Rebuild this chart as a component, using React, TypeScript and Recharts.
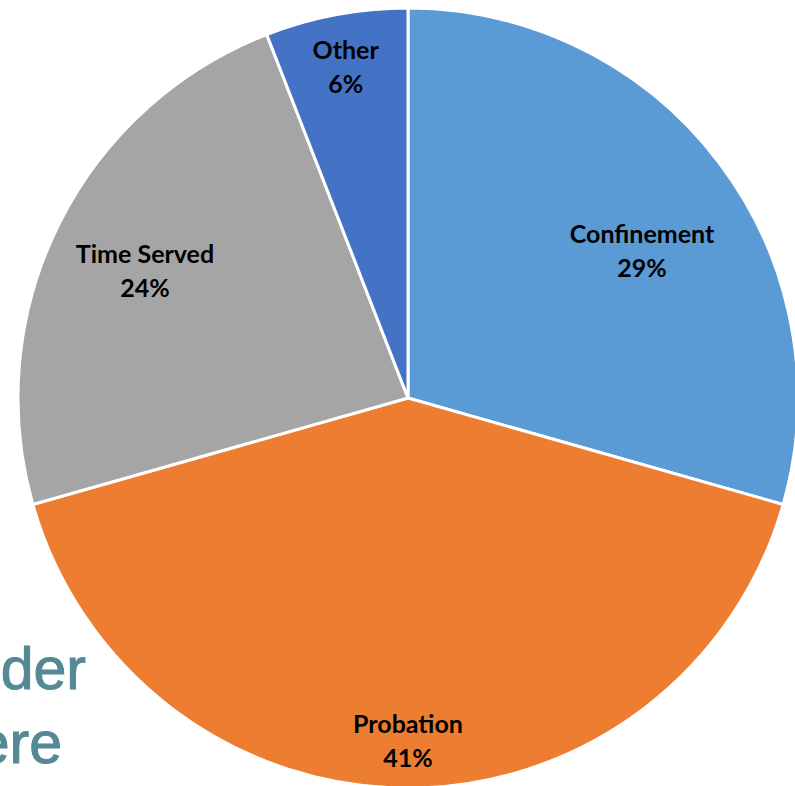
import { Cell, Pie, PieChart } from "recharts"

const categories = ["Confinement", "Probation", "Time Served", "Other"]
const shares = [29.4, 41.2, 23.5, 5.9]
const percentLabels = ["29%", "41%", "24%", "6%"]

const colors = ["#5B9BD5", "#ED7D31", "#A5A5A5", "#4472C4"]
// label placement: fraction of radius and angle tweak (degrees) per slice
const labelRadius = [0.71, 0.877, 0.75, 0.867]
const labelAngleShift = [-4.8, 0, 0.5, 0]

const data = categories.map((name, i) => ({ name, value: shares[i], pct: percentLabels[i] }))

const RADIAN = Math.PI / 180

function renderLabel(props: any) {
  const { cx, cy, midAngle, outerRadius, index } = props
  const a = (midAngle + labelAngleShift[index]) * RADIAN
  const r = outerRadius * labelRadius[index]
  const x = cx + r * Math.cos(a)
  const y = cy - r * Math.sin(a)
  return (
    <text
      x={x}
      y={y}
      textAnchor="middle"
      fill="#000"
      fontFamily="Lato, 'Liberation Sans', sans-serif"
      fontWeight="bold"
      fontSize={25}
    >
      <tspan x={x} y={y - 17} dominantBaseline="central">
        {data[index].name}
      </tspan>
      <tspan x={x} y={y + 17} dominantBaseline="central">
        {data[index].pct}
      </tspan>
    </text>
  )
}

export default function App() {
  return (
    <div style={{ position: "absolute", left: 0, top: 0, width: 795, height: 786, overflow: "hidden", background: "#fff" }}>
      {/* slide text peeking out behind the pie */}
      <svg width={795} height={786} style={{ position: "absolute", left: 0, top: 0 }}>
        <text x={86} y={689} textAnchor="end" fill="#548995" stroke="#548995" strokeWidth={1} fontFamily="'Liberation Sans', Arial, sans-serif" fontSize={59}>
          der
        </text>
        <text x={62} y={763} textAnchor="end" fill="#548995" stroke="#548995" strokeWidth={1} fontFamily="'Liberation Sans', Arial, sans-serif" fontSize={59}>
          ere
        </text>
      </svg>
      <div style={{ position: "absolute", left: 0, top: 0 }}>
        <PieChart width={795} height={786} margin={{ top: 0, right: 0, bottom: 0, left: 0 }}>
          <Pie
            data={data}
            dataKey="value"
            nameKey="name"
            cx={408}
            cy={398}
            outerRadius={390}
            startAngle={90}
            endAngle={-270}
            stroke="#fff"
            strokeWidth={3}
            label={renderLabel}
            labelLine={false}
            isAnimationActive={false}
          >
            {data.map((d, i) => (
              <Cell key={d.name} fill={colors[i]} />
            ))}
          </Pie>
        </PieChart>
      </div>
    </div>
  )
}
